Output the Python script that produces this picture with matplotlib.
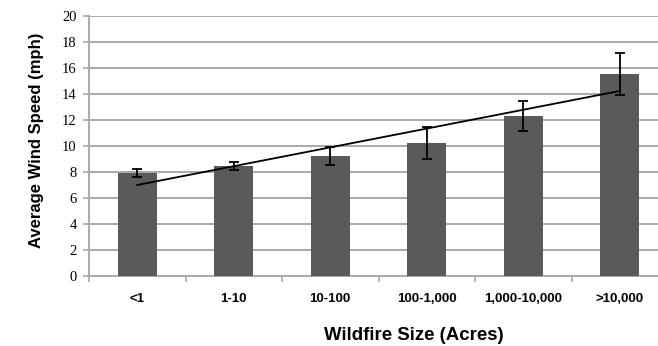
import numpy as np
import matplotlib
matplotlib.use("Agg")
import matplotlib.pyplot as plt

# Wildfire size classes and mean wind speed (mph) with error bars
sizes = ["<1", "1-10", "10-100", "100-1,000", "1,000-10,000", ">10,000"]
wind_speed = [7.92, 8.46, 9.23, 10.25, 12.3, 15.54]
wind_err = [0.28, 0.30, 0.72, 1.25, 1.15, 1.65]

GRID = "#a9a9a9"
BAR = "#5a5a5a"

fig = plt.figure(figsize=(6.58, 3.46), dpi=100)
# plot area runs a little past the right edge of the image, as in the original
ax = fig.add_axes([89 / 658, 70 / 346, 579 / 658, 260 / 346])

x = np.arange(len(sizes))
ax.bar(x, wind_speed, width=0.40, color=BAR, zorder=3)
ax.errorbar(x, wind_speed, yerr=wind_err, fmt="none", ecolor="black",
            elinewidth=1.3, capsize=3.5, capthick=1.3, zorder=4)

# linear trendline through the bar means
slope, intercept = np.polyfit(x, wind_speed, 1)
ax.plot(x, slope * x + intercept, color="black", lw=1.3, zorder=5)

ax.set_xlim(-0.5, len(sizes) - 0.5)
ax.set_ylim(0, 20)
ax.set_yticks(np.arange(0, 21, 2))
ax.yaxis.grid(True, color=GRID, lw=1.4, zorder=0)
ax.set_axisbelow(True)

for side in ["top", "right"]:
    ax.spines[side].set_visible(False)
for side in ["left", "bottom"]:
    ax.spines[side].set_color(GRID)
    ax.spines[side].set_linewidth(1.4)

# category labels centred, tick marks on the category boundaries
ax.set_xticks(np.arange(-0.5, len(sizes), 1.0))
ax.set_xticklabels([])
ax.tick_params(axis="x", length=4, width=1.2, color=GRID, direction="out")
ax.set_xticks(x, minor=True)
ax.set_xticklabels(sizes, minor=True, fontsize=9.5, fontweight="bold",
                   family="Liberation Sans")
ax.tick_params(axis="x", which="minor", length=0, pad=12)

ax.tick_params(axis="y", length=4, width=1.2, color=GRID, pad=5,
               labelsize=10.5)
for lab in ax.get_yticklabels():
    lab.set_family("Liberation Serif")

fig.text(37 / 658, 1 - 140 / 346, "Average Wind Speed (mph)", fontsize=12,
         fontweight="bold", family="Liberation Sans", rotation=90,
         ha="center", va="center")
fig.text(414 / 658, 1 - 335 / 346, "Wildfire Size (Acres)", fontsize=13.4,
         fontweight="bold", family="Liberation Sans", ha="center", va="center")

fig.savefig("out.png", dpi=100)
